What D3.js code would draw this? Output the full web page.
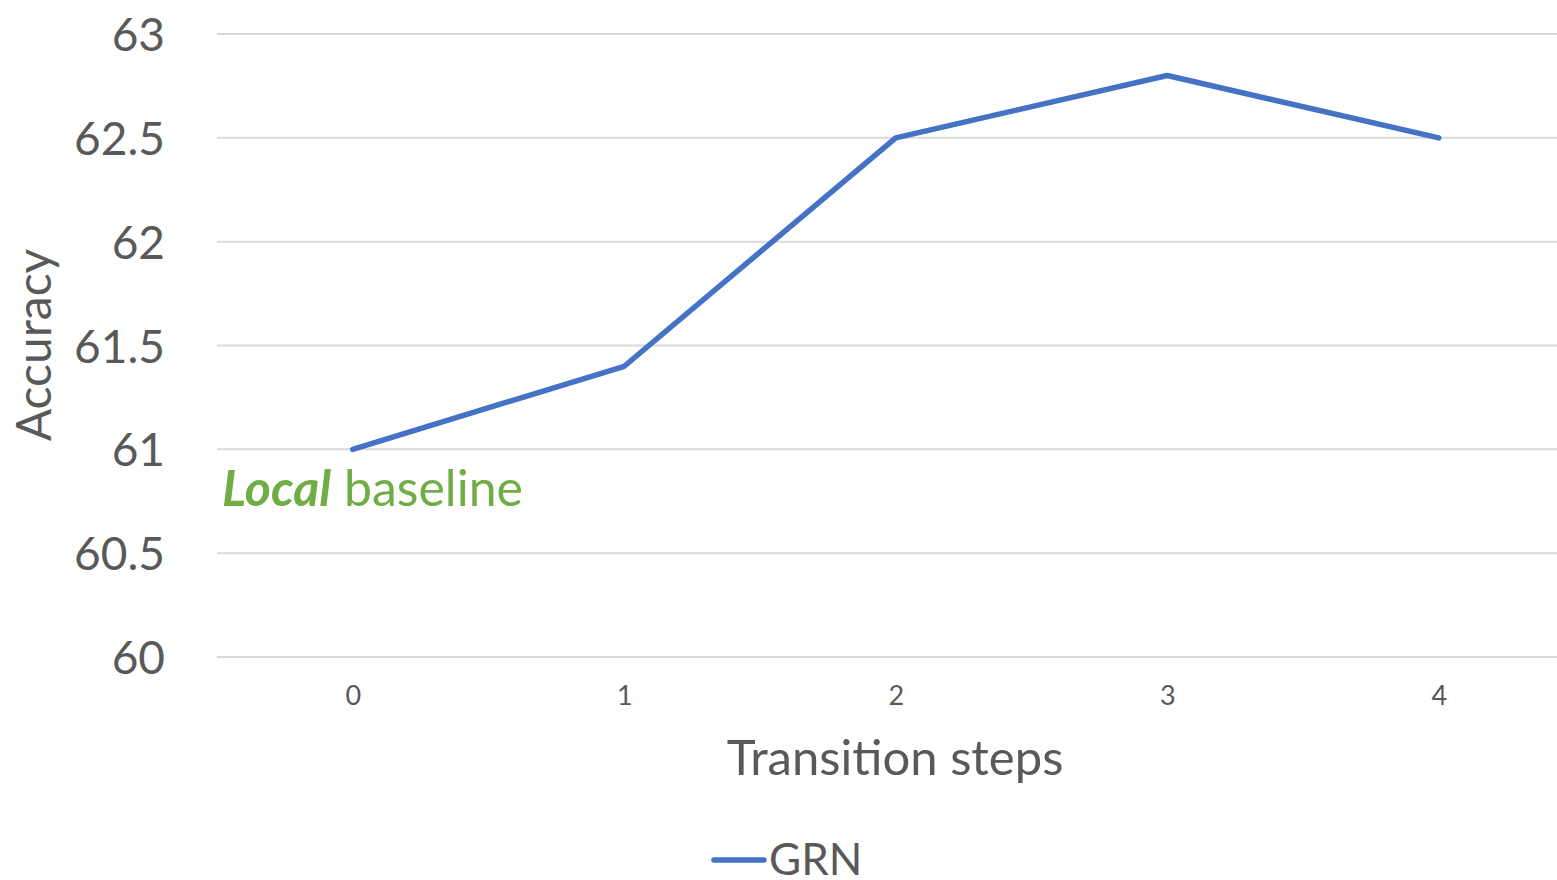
<!DOCTYPE html>
<html>
<head>
<meta charset="utf-8">
<script src="https://cdn.jsdelivr.net/npm/d3@7"></script>
<style>
  html, body { margin: 0; padding: 0; background: #fff; }
  svg { display: block; font-family: Lato, "Open Sans", sans-serif; }
</style>
</head>
<body>
<svg id="chart" width="1557" height="880"></svg>
<script>
// Accuracy of GRN by number of transition steps
const steps = ["0", "1", "2", "3", "4"];
const grnAccuracy = [61.0, 61.4, 62.5, 62.8, 62.5];
const yTicks = [60, 60.5, 61, 61.5, 62, 62.5, 63];
const seriesName = "GRN";

const svg = d3.select("#chart");
const textColor = "#595959";
const lineColor = "#4472C4";

const x = d3.scalePoint().domain(steps).range([217, 1574.5]).padding(0.5);
const y = d3.scaleLinear().domain([60, 63]).range([657, 34]);

// Horizontal gridlines
svg.append("g").selectAll("line").data(yTicks).join("line")
  .attr("x1", 217).attr("x2", 1574.5)
  .attr("y1", d => y(d)).attr("y2", d => y(d))
  .attr("stroke", "#d9d9d9").attr("stroke-width", 2);

// Y axis labels
const yAxis = d3.axisLeft(y).tickValues(yTicks).tickSize(0).tickPadding(0)
  .tickFormat(d => String(d));
svg.append("g").attr("transform", "translate(165,0)").call(yAxis)
  .call(g => g.select(".domain").remove())
  .selectAll("text")
  .attr("fill", textColor).attr("font-size", 46).attr("dy", "0.36em")
  .attr("font-family", "Lato, sans-serif");

// X axis labels
const xAxis = d3.axisBottom(x).tickSize(0).tickPadding(0);
svg.append("g").attr("transform", "translate(0,686)").call(xAxis)
  .call(g => g.select(".domain").remove())
  .selectAll("text")
  .attr("fill", textColor).attr("font-size", 27).attr("dy", "0.71em")
  .attr("font-family", "Lato, sans-serif");

// Axis titles
svg.append("text")
  .attr("x", 895).attr("y", 775).attr("text-anchor", "middle")
  .attr("fill", textColor).attr("font-size", 49)
  .text("Transition steps");

svg.append("text")
  .attr("transform", "translate(51,345) rotate(-90)")
  .attr("text-anchor", "middle")
  .attr("fill", textColor).attr("font-size", 48)
  .text("Accuracy");

// Series line
const line = d3.line().x((d, i) => x(steps[i])).y(d => y(d));
svg.append("path").datum(grnAccuracy)
  .attr("d", line).attr("fill", "none")
  .attr("stroke", lineColor).attr("stroke-width", 5.5)
  .attr("stroke-linecap", "round").attr("stroke-linejoin", "round");

// Baseline annotation
const note = svg.append("text")
  .attr("x", 222).attr("y", 506)
  .attr("fill", "#70AD47").attr("font-size", 50);
note.append("tspan").attr("font-weight", "bold").attr("font-style", "italic").text("Local");
note.append("tspan").text(" baseline");

// Legend
svg.append("line")
  .attr("x1", 714).attr("x2", 764).attr("y1", 860).attr("y2", 860)
  .attr("stroke", lineColor).attr("stroke-width", 5.5).attr("stroke-linecap", "round");
svg.append("text")
  .attr("x", 769).attr("y", 875)
  .attr("fill", textColor).attr("font-size", 44)
  .text(seriesName);
</script>
</body>
</html>
